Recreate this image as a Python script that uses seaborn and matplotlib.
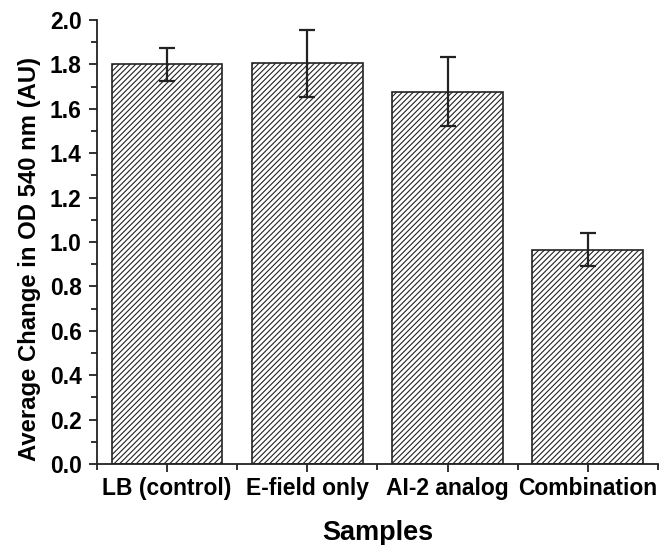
import matplotlib
matplotlib.use("Agg")
import matplotlib.pyplot as plt
import seaborn as sns
import pandas as pd
import numpy as np
from matplotlib.ticker import MultipleLocator, FixedLocator

categories = ["LB (control)", "E-field only", "AI-2 analog", "Combination"]
values = [1.80, 1.805, 1.677, 0.965]
errors = [0.075, 0.15, 0.155, 0.075]

sns.set_style("ticks")
plt.rcParams['font.family'] = ['Liberation Sans', 'DejaVu Sans']
plt.rcParams['font.weight'] = 'bold'
plt.rcParams['hatch.linewidth'] = 0.8
plt.rcParams['hatch.color'] = '#444444'
plt.rcParams['text.color'] = 'black'
plt.rcParams['axes.labelcolor'] = 'black'

df = pd.DataFrame({"Sample": categories, "Value": values})

fig = plt.figure(figsize=(6.64, 5.45), dpi=100)
ax = fig.add_axes([0.146, 0.1486, 0.845, 0.8146])

sns.barplot(data=df, x="Sample", y="Value", ax=ax, color="white",
            edgecolor="#222222", linewidth=1.2, width=0.79, errorbar=None,
            saturation=1)
for p in ax.patches:
    p.set_hatch("//////")
    p.set_facecolor("white")

ax.errorbar(np.arange(len(categories)), values, yerr=errors, fmt="none",
            ecolor="#222222", elinewidth=1.6, capsize=5.5, capthick=1.6)

ax.set_xlim(-0.5, 3.5)
ax.set_ylim(0, 2.0)
ax.yaxis.set_major_locator(MultipleLocator(0.2))
ax.yaxis.set_minor_locator(MultipleLocator(0.1))
ax.xaxis.set_minor_locator(FixedLocator([-0.5, 0.5, 1.5, 2.5, 3.5]))
ax.set_yticks(np.arange(0, 2.01, 0.2))
ax.set_yticklabels([f"{v:.1f}" for v in np.arange(0, 2.01, 0.2)])

for s in ["top", "right"]:
    ax.spines[s].set_visible(False)
for s in ["left", "bottom"]:
    ax.spines[s].set_linewidth(1.3)
    ax.spines[s].set_color("#222222")

ax.tick_params(axis="both", which="major", length=6, width=1.3, direction="out",
               labelsize=16.5, colors="#222222", labelcolor="black")
ax.tick_params(axis="y", which="major", pad=5)
ax.tick_params(axis="both", which="minor", length=4, width=1.3, direction="out",
               colors="#222222")
for lab in ax.get_xticklabels() + ax.get_yticklabels():
    lab.set_fontweight("bold")

ax.set_xlabel("Samples", fontsize=19.5, fontweight="bold", labelpad=14,
              color="black")
ax.set_ylabel("Average Change in OD 540 nm (AU)", fontsize=17.2,
              fontweight="bold", labelpad=7, color="black")
ax.yaxis.set_label_coords(-0.1, 0.463)

fig.savefig("out.png", dpi=100)
